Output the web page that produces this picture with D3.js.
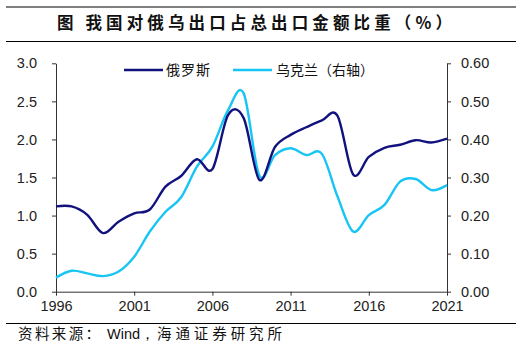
<!DOCTYPE html>
<html><head><meta charset="utf-8">
<script src="https://cdn.jsdelivr.net/npm/d3@7"></script>
<style>
html,body{margin:0;padding:0;background:#fff;}
svg{display:block;}
</style></head>
<body>
<svg id="chart" width="520" height="355"></svg>
<script>
const titleText = "图  我国对俄乌出口占总出口金额比重（%）";
const sourceParts = ["资料来源：", "Wind，", "海通证券研究所"];
const seriesNames = ["俄罗斯", "乌克兰（右轴）"];
const years = [1996,1997,1998,1999,2000,2001,2002,2003,2004,2005,2006,2007,2008,2009,2010,2011,2012,2013,2014,2015,2016,2017,2018,2019,2020,2021];
const russia = [1.12,1.12,1.01,0.77,0.92,1.03,1.08,1.38,1.52,1.74,1.61,2.32,2.28,1.47,1.90,2.06,2.16,2.25,2.31,1.54,1.77,1.89,1.93,1.99,1.96,2.01];
const ukraine = [0.037,0.055,0.048,0.041,0.053,0.092,0.158,0.210,0.248,0.328,0.381,0.477,0.521,0.305,0.359,0.377,0.359,0.362,0.250,0.158,0.201,0.228,0.289,0.296,0.267,0.280];
const xTicks = [1996,2001,2006,2011,2016,2021];
const leftTicks = [0,0.5,1.0,1.5,2.0,2.5,3.0];
const rightTicks = [0,0.1,0.2,0.3,0.4,0.5,0.6];

const svg = d3.select("#chart");
const L = 56, R = 447, T = 63.3, B = 291.7;
const x = d3.scaleLinear().domain([1996,2021]).range([L,R]);
const yL = d3.scaleLinear().domain([0,3]).range([B,T]);
const yR = d3.scaleLinear().domain([0,0.6]).range([B,T]);

const cRus = "#12127e", cUkr = "#17c5f4";
const axisColor = "#333";
const tickFont = "'Liberation Sans', Arial, sans-serif";
const cjkFont = "'Noto Sans CJK SC', sans-serif";

// rules
svg.append("line").attr("x1",6).attr("x2",516).attr("y1",7).attr("y2",7).attr("stroke","#000").attr("stroke-width",1.2);
svg.append("line").attr("x1",6).attr("x2",516).attr("y1",41.5).attr("y2",41.5).attr("stroke","#000").attr("stroke-width",1.2);
svg.append("line").attr("x1",6).attr("x2",516).attr("y1",323.5).attr("y2",323.5).attr("stroke","#000").attr("stroke-width",1.2);

svg.append("text").attr("x",57).attr("y",29).attr("textLength",395).attr("lengthAdjust","spacing")
  .attr("font-family",cjkFont).attr("font-weight","bold").attr("font-size",16.5).attr("fill","#111").text(titleText);

// source
const srcSpec = [{x:18,w:82},{x:107,w:null},{x:157,w:125}];
sourceParts.forEach((s,i)=>{
  const t = svg.append("text").attr("x",srcSpec[i].x).attr("y",339)
    .attr("font-family", i===1 ? "'Liberation Sans', Arial, sans-serif" : cjkFont)
    .attr("font-size",14.5).attr("fill","#111").text(s);
  if (srcSpec[i].w) t.attr("textLength",srcSpec[i].w).attr("lengthAdjust","spacing");
});

// axes
function styleAxis(g){
  g.select(".domain").attr("stroke",axisColor).attr("stroke-width",1);
  g.selectAll(".tick line").attr("stroke",axisColor);
  g.selectAll(".tick text").attr("font-family",tickFont).attr("font-size",14.5).attr("fill","#222");
}
const gL = svg.append("g").attr("transform",`translate(${L},0)`)
  .call(d3.axisLeft(yL).tickValues(leftTicks).tickFormat(d3.format(".1f")).tickSize(4).tickSizeOuter(0).tickPadding(15));
styleAxis(gL);
const gR = svg.append("g").attr("transform",`translate(${R},0)`)
  .call(d3.axisRight(yR).tickValues(rightTicks).tickFormat(d3.format(".2f")).tickSize(4).tickSizeOuter(0).tickPadding(10));
styleAxis(gR);
const gX = svg.append("g").attr("transform",`translate(0,${B})`)
  .call(d3.axisBottom(x).tickValues(xTicks).tickFormat(d3.format("d")).tickSize(4).tickSizeOuter(0).tickPadding(5));
styleAxis(gX);

// lines
const curve = d3.curveCatmullRom.alpha(0);
const lineR = d3.line().x((d,i)=>x(years[i])).y(d=>yL(d)).curve(curve);
const lineU = d3.line().x((d,i)=>x(years[i])).y(d=>yR(d)).curve(curve);
svg.append("path").datum(ukraine).attr("d",lineU).attr("fill","none").attr("stroke",cUkr).attr("stroke-width",2.4);
svg.append("path").datum(russia).attr("d",lineR).attr("fill","none").attr("stroke",cRus).attr("stroke-width",2.4);

// legend
const leg = svg.append("g");
const items = [{n:seriesNames[0],c:cRus,x0:124,x1:163,tx:166,w:44},{n:seriesNames[1],c:cUkr,x0:233,x1:272,tx:276,w:98}];
items.forEach(it=>{
  leg.append("line").attr("x1",it.x0).attr("x2",it.x1).attr("y1",70).attr("y2",70).attr("stroke",it.c).attr("stroke-width",2.4);
  leg.append("text").attr("x",it.tx).attr("y",75).attr("textLength",it.w).attr("lengthAdjust","spacing")
    .attr("font-family",cjkFont).attr("font-size",14).attr("fill","#111").text(it.n);
});
</script>
</body></html>
